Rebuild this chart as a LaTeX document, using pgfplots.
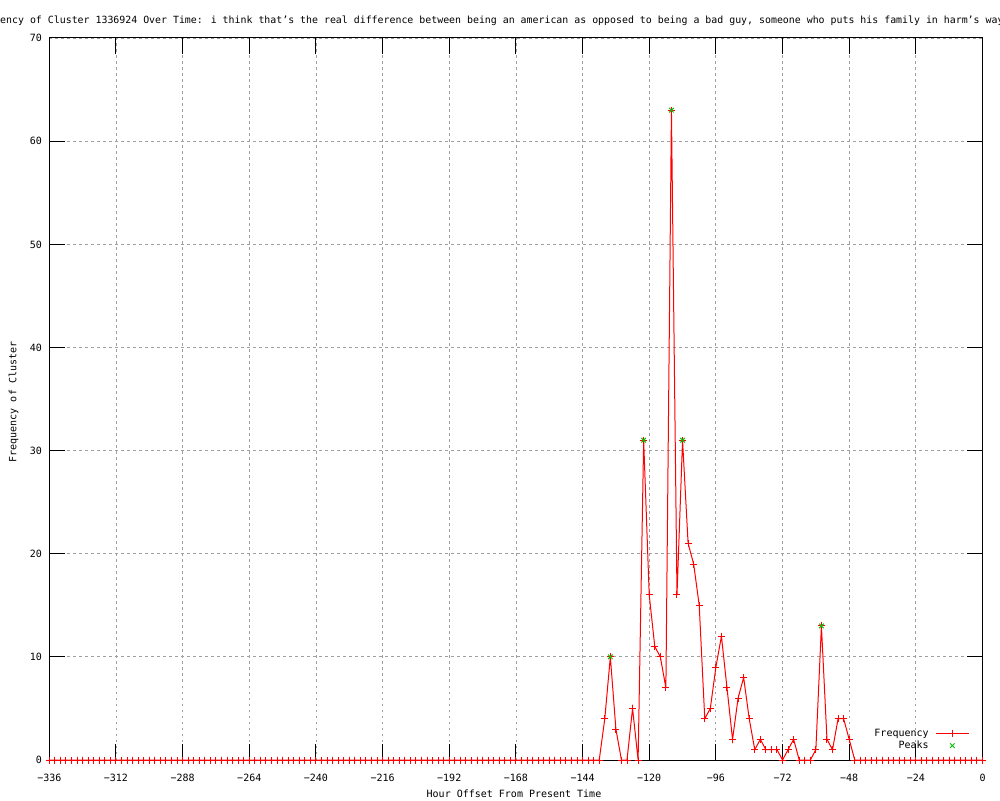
\documentclass[border=0pt]{standalone}
\usepackage{fontspec}
\setmainfont{DejaVu Sans Mono}
\usepackage{pgfplots}
\pgfplotsset{compat=1.18}
\definecolor{peakgreen}{RGB}{0,192,0}
\definecolor{gridgray}{RGB}{160,160,160}
\pgfplotsset{
  layers/mylayers/.define layer set={axis background,axis grid,main,axis ticks,axis lines,axis tick labels,axis descriptions,axis foreground}{},
}
\begin{document}
\fontsize{10}{12}\selectfont
\begin{tikzpicture}[font=\fontsize{10}{12}\selectfont]
\begin{axis}[
  set layers=mylayers,
  at={(49.3pt,40pt)}, anchor=south west,
  scale only axis, width=933.2pt, height=722pt,
  xmin=-336, xmax=0, ymin=0, ymax=70,
  xtick={-336,-312,...,0},
  xticklabels={−336,−312,−288,−264,−240,−216,−192,−168,−144,−120,−96,−72,−48,−24,0},
  ytick={0,10,...,70},
  /pgf/number format/assume math mode=true,
  tick align=inside, major tick length=16pt,
  tick style={black, line width=1pt},
  axis line style={line width=1pt},
  grid=major, grid style={gridgray, line width=0.8pt, dash pattern=on 2.5pt off 3.5pt},
  clip=false,
  xticklabel style={anchor=base, yshift=-21pt, inner sep=0pt},
  yticklabel style={anchor=base east, xshift=-7.3pt, yshift=-3.8pt, inner sep=0pt},
  legend plot pos=right,
  legend cell align=right,
  legend style={at={(0.9859,0.0284)}, anchor=east, draw=none, fill=none,
    inner sep=0pt, outer sep=0pt, row sep=3.5pt, column sep=6.7pt,
    nodes={inner sep=0pt}},
  legend image code/.code={\draw[mark repeat=2,mark phase=2,#1] plot coordinates {(0pt,0pt) (16.5pt,0pt) (33pt,0pt)};},
]
\addplot[red, line width=1pt, mark=+, mark size=3.5pt] coordinates {
(-336,0)(-334,0)(-332,0)(-330,0)(-328,0)(-326,0)(-324,0)(-322,0)(-320,0)(-318,0)
(-316,0)(-314,0)(-312,0)(-310,0)(-308,0)(-306,0)(-304,0)(-302,0)(-300,0)(-298,0)
(-296,0)(-294,0)(-292,0)(-290,0)(-288,0)(-286,0)(-284,0)(-282,0)(-280,0)(-278,0)
(-276,0)(-274,0)(-272,0)(-270,0)(-268,0)(-266,0)(-264,0)(-262,0)(-260,0)(-258,0)
(-256,0)(-254,0)(-252,0)(-250,0)(-248,0)(-246,0)(-244,0)(-242,0)(-240,0)(-238,0)
(-236,0)(-234,0)(-232,0)(-230,0)(-228,0)(-226,0)(-224,0)(-222,0)(-220,0)(-218,0)
(-216,0)(-214,0)(-212,0)(-210,0)(-208,0)(-206,0)(-204,0)(-202,0)(-200,0)(-198,0)
(-196,0)(-194,0)(-192,0)(-190,0)(-188,0)(-186,0)(-184,0)(-182,0)(-180,0)(-178,0)
(-176,0)(-174,0)(-172,0)(-170,0)(-168,0)(-166,0)(-164,0)(-162,0)(-160,0)(-158,0)
(-156,0)(-154,0)(-152,0)(-150,0)(-148,0)(-146,0)(-144,0)(-142,0)(-140,0)(-138,0)
(-136,4)(-134,10)(-132,3)(-130,0)(-128,0)(-126,5)(-124,0)(-122,31)(-120,16)(-118,11)
(-116,10)(-114,7)(-112,63)(-110,16)(-108,31)(-106,21)(-104,19)(-102,15)(-100,4)(-98,5)
(-96,9)(-94,12)(-92,7)(-90,2)(-88,6)(-86,8)(-84,4)(-82,1)(-80,2)(-78,1)
(-76,1)(-74,1)(-72,0)(-70,1)(-68,2)(-66,0)(-64,0)(-62,0)(-60,1)(-58,13)
(-56,2)(-54,1)(-52,4)(-50,4)(-48,2)(-46,0)(-44,0)(-42,0)(-40,0)(-38,0)
(-36,0)(-34,0)(-32,0)(-30,0)(-28,0)(-26,0)(-24,0)(-22,0)(-20,0)(-18,0)
(-16,0)(-14,0)(-12,0)(-10,0)(-8,0)(-6,0)(-4,0)(-2,0)(0,0)
};
\addlegendentry{Frequency}
\addplot[peakgreen, only marks, mark=x, mark size=3.2pt, mark options={line width=1pt}] coordinates {
(-134,10)(-122,31)(-112,63)(-108,31)(-58,13)
};
\addlegendentry{Peaks}
\end{axis}
\node[anchor=base, font=\fontsize{9.9}{12}\selectfont] at (487pt,776.7pt) {Frequency of Cluster 1336924 Over Time: i think that’s the real difference between being an american as opposed to being a bad guy, someone who puts his family in harm’s way};
\node[anchor=base] at (514pt,2.7pt) {Hour Offset From Present Time};
\node[anchor=base, rotate=90] at (16.3pt,398pt) {Frequency of Cluster};
\pgfresetboundingbox
\path[use as bounding box] (0,0) rectangle (1000pt,800pt);
\end{tikzpicture}
\end{document}
